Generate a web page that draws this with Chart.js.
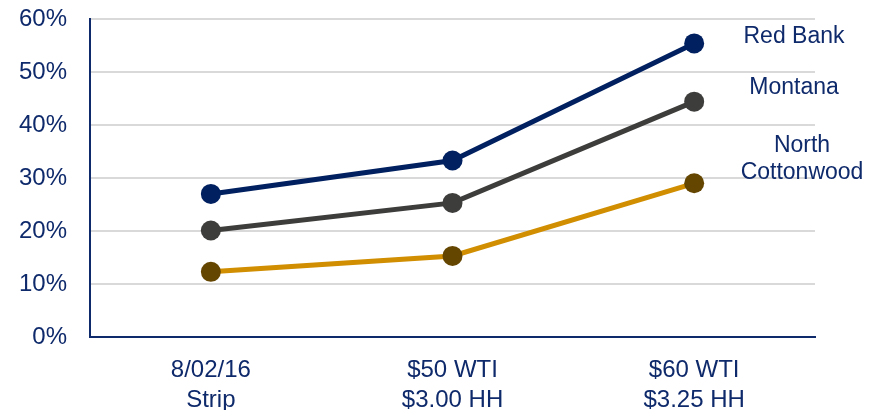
<!DOCTYPE html>
<html>
<head>
<meta charset="utf-8">
<script src="https://cdn.jsdelivr.net/npm/chart.js@4"></script>
<style>
    html, body { margin: 0; padding: 0; background: #ffffff; }
    #wrap { width: 869px; height: 410px; }
</style>
</head>
<body>
<div id="wrap"><canvas id="irrChart" width="869" height="410"></canvas></div>
<script>
// Chart data
const categories = [
    ["8/02/16", "Strip"],
    ["$50 WTI", "$3.00 HH"],
    ["$60 WTI", "$3.25 HH"]
];

const seriesNames = ["Red Bank", "Montana", "North Cottonwood"];

const redBank = [27.0, 33.3, 55.4];
const montana = [20.1, 25.3, 44.4];
const northCottonwood = [12.3, 15.3, 29.0];

const yTicks = [0, 10, 20, 30, 40, 50, 60];

const navy = "#0f2a6b";
const fontFamily = "'Liberation Sans', Arial, sans-serif";

// Series labels to the right of the last points
const seriesLabelPlugin = {
    id: "seriesLabels",
    afterDraw(chart) {
        const c = chart.ctx;
        c.save();
        c.fillStyle = navy;
        c.font = "23px " + fontFamily;
        c.textAlign = "center";
        c.textBaseline = "middle";
        c.fillText(seriesNames[0], 794, 37);
        c.fillText(seriesNames[1], 794, 88);
        const parts = seriesNames[2].split(" ");
        c.fillText(parts[0], 802, 146);
        c.fillText(parts[1], 802, 173);
        c.restore();
    }
};

const ctx = document.getElementById("irrChart").getContext("2d");

const irrChart = new Chart(ctx, {

    type: "line",

    data: {
        labels: categories,
        datasets: [
            {
                label: seriesNames[0],
                data: redBank,
                borderColor: "#002060",
                backgroundColor: "#002060",
                pointBackgroundColor: "#002060",
                borderWidth: 5,
                pointRadius: 10,
                pointBorderWidth: 0
            },
            {
                label: seriesNames[1],
                data: montana,
                borderColor: "#3d3d3b",
                backgroundColor: "#3d3d3b",
                pointBackgroundColor: "#3d3d3b",
                borderWidth: 5,
                pointRadius: 10,
                pointBorderWidth: 0
            },
            {
                label: seriesNames[2],
                data: northCottonwood,
                borderColor: "#d08e00",
                backgroundColor: "#654600",
                pointBackgroundColor: "#654600",
                borderWidth: 5,
                pointRadius: 10,
                pointBorderWidth: 0
            }
        ]
    },

    options: {
        responsive: false,
        animation: false,
        layout: {
            autoPadding: false,
            padding: { top: 0, right: 54, left: -4, bottom: -23 }
        },
        plugins: {
            legend: { display: false },
            tooltip: { enabled: false }
        },
        scales: {
            x: {
                offset: true,
                grid: { display: false, drawTicks: false },
                border: { color: navy, width: 2 },
                ticks: {
                    color: navy,
                    padding: 18,
                    font: { family: fontFamily, size: 24, lineHeight: 1.25 }
                }
            },
            y: {
                min: 0,
                max: 60,
                afterBuildTicks(axis) {
                    axis.ticks = yTicks.map(v => ({ value: v }));
                },
                afterFit(axis) {
                    axis.paddingTop = 19;
                    axis.paddingBottom = 14;
                },
                grid: { color: "#d9d9d9", lineWidth: 2, drawTicks: false },
                border: { color: navy, width: 2 },
                ticks: {
                    color: navy,
                    padding: 23,
                    font: { family: fontFamily, size: 24 },
                    callback: v => v + "%"
                }
            }
        }
    },

    plugins: [seriesLabelPlugin]
});
</script>
</body>
</html>
